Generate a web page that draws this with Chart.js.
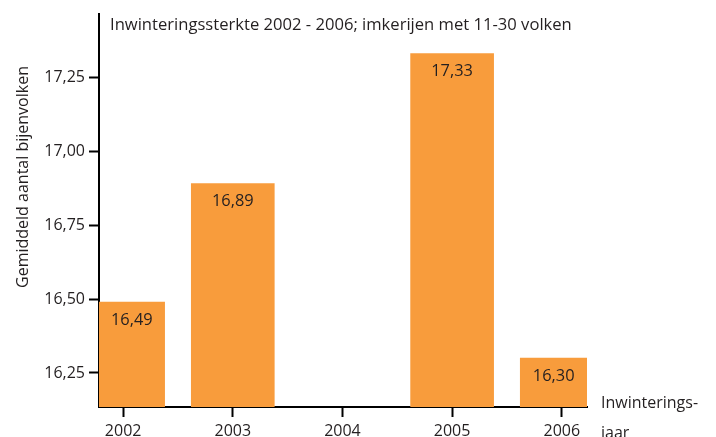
<!DOCTYPE html>
<html>
<head>
<meta charset="utf-8">
<script src="https://cdn.jsdelivr.net/npm/chart.js@4.4.1/dist/chart.umd.min.js"></script>
<style>
  html, body { margin: 0; padding: 0; background: #fff; }
</style>
</head>
<body>
<canvas id="chart" width="716" height="437"></canvas>
<script>
const years = [2002, 2003, 2004, 2005, 2006];
const values = [16.49, 16.89, null, 17.33, 16.30];
const yTicks = [16.25, 16.50, 16.75, 17.00, 17.25];
const chartTitle = 'Inwinteringssterkte 2002 - 2006; imkerijen met 11-30 volken';
const yTitle = 'Gemiddeld aantal bijenvolken';
const xTitle = ['Inwinterings-', 'jaar'];

const FONT = '"Open Sans", "Noto Sans", sans-serif';
const TEXT = '#231f20';
const ORANGE = '#f89c3c';

const fmt = v => v.toFixed(2).replace('.', ',');

// titles and value labels drawn on the canvas
const labelsPlugin = {
  id: 'labels',
  afterDraw(chart) {
    const { ctx, chartArea: area } = chart;
    ctx.save();
    ctx.fillStyle = TEXT;
    ctx.font = `16.6px ${FONT}`;
    ctx.textAlign = 'left';
    ctx.textBaseline = 'alphabetic';
    ctx.fillText(chartTitle, area.left + 11, 30);

    ctx.font = `16px ${FONT}`;
    ctx.fillText(xTitle[0], area.right + 14, 408);
    ctx.fillText(xTitle[1], area.right + 14, 438);

    ctx.save();
    ctx.translate(28, 177);
    ctx.rotate(-Math.PI / 2);
    ctx.textAlign = 'center';
    ctx.fillText(yTitle, 0, 0);
    ctx.restore();

    // value labels, centred on the visible part of each bar
    const meta = chart.getDatasetMeta(0);
    ctx.font = `16.4px ${FONT}`;
    ctx.textAlign = 'center';
    ctx.textBaseline = 'middle';
    meta.data.forEach((bar, i) => {
      if (values[i] == null) return;
      const l = Math.max(bar.x - bar.width / 2, area.left);
      const r = Math.min(bar.x + bar.width / 2, area.right);
      ctx.fillText(fmt(values[i]), (l + r) / 2, bar.y + 18);
    });
    ctx.restore();
  }
};

new Chart(document.getElementById('chart'), {
  type: 'bar',
  data: {
    datasets: [{
      data: years.map((y, i) => ({ x: y, y: values[i] })),
      backgroundColor: ORANGE,
      borderWidth: 0,
      barThickness: 83,
      clip: 0
    }]
  },
  options: {
    responsive: false,
    animation: false,
    layout: { padding: { top: 13, right: 129, left: 0, bottom: 0 } },
    plugins: { legend: { display: false }, tooltip: { enabled: false } },
    scales: {
      x: {
        type: 'linear',
        offset: false,
        min: 2001.78,
        max: 2006.23,
        afterBuildTicks: s => { s.ticks = years.map(v => ({ value: v })); },
        afterFit: s => { s.height = 30; },
        border: { color: '#000', width: 2 },
        grid: { offset: false, drawOnChartArea: false, drawTicks: true, tickLength: 10, tickColor: '#000', tickWidth: 2 },
        ticks: { color: TEXT, font: { family: FONT, size: 16 }, padding: 5, callback: v => String(v) }
      },
      y: {
        min: 16.135,
        max: 17.465,
        afterBuildTicks: s => { s.ticks = yTicks.map(v => ({ value: v })); },
        afterFit: s => { s.width = 99; },
        border: { color: '#000', width: 2 },
        grid: { drawOnChartArea: false, drawTicks: true, tickLength: 10, tickColor: '#000', tickWidth: 2 },
        ticks: { color: TEXT, font: { family: FONT, size: 16 }, padding: 4, callback: v => fmt(v) }
      }
    }
  },
  plugins: [labelsPlugin]
});
</script>
</body>
</html>
